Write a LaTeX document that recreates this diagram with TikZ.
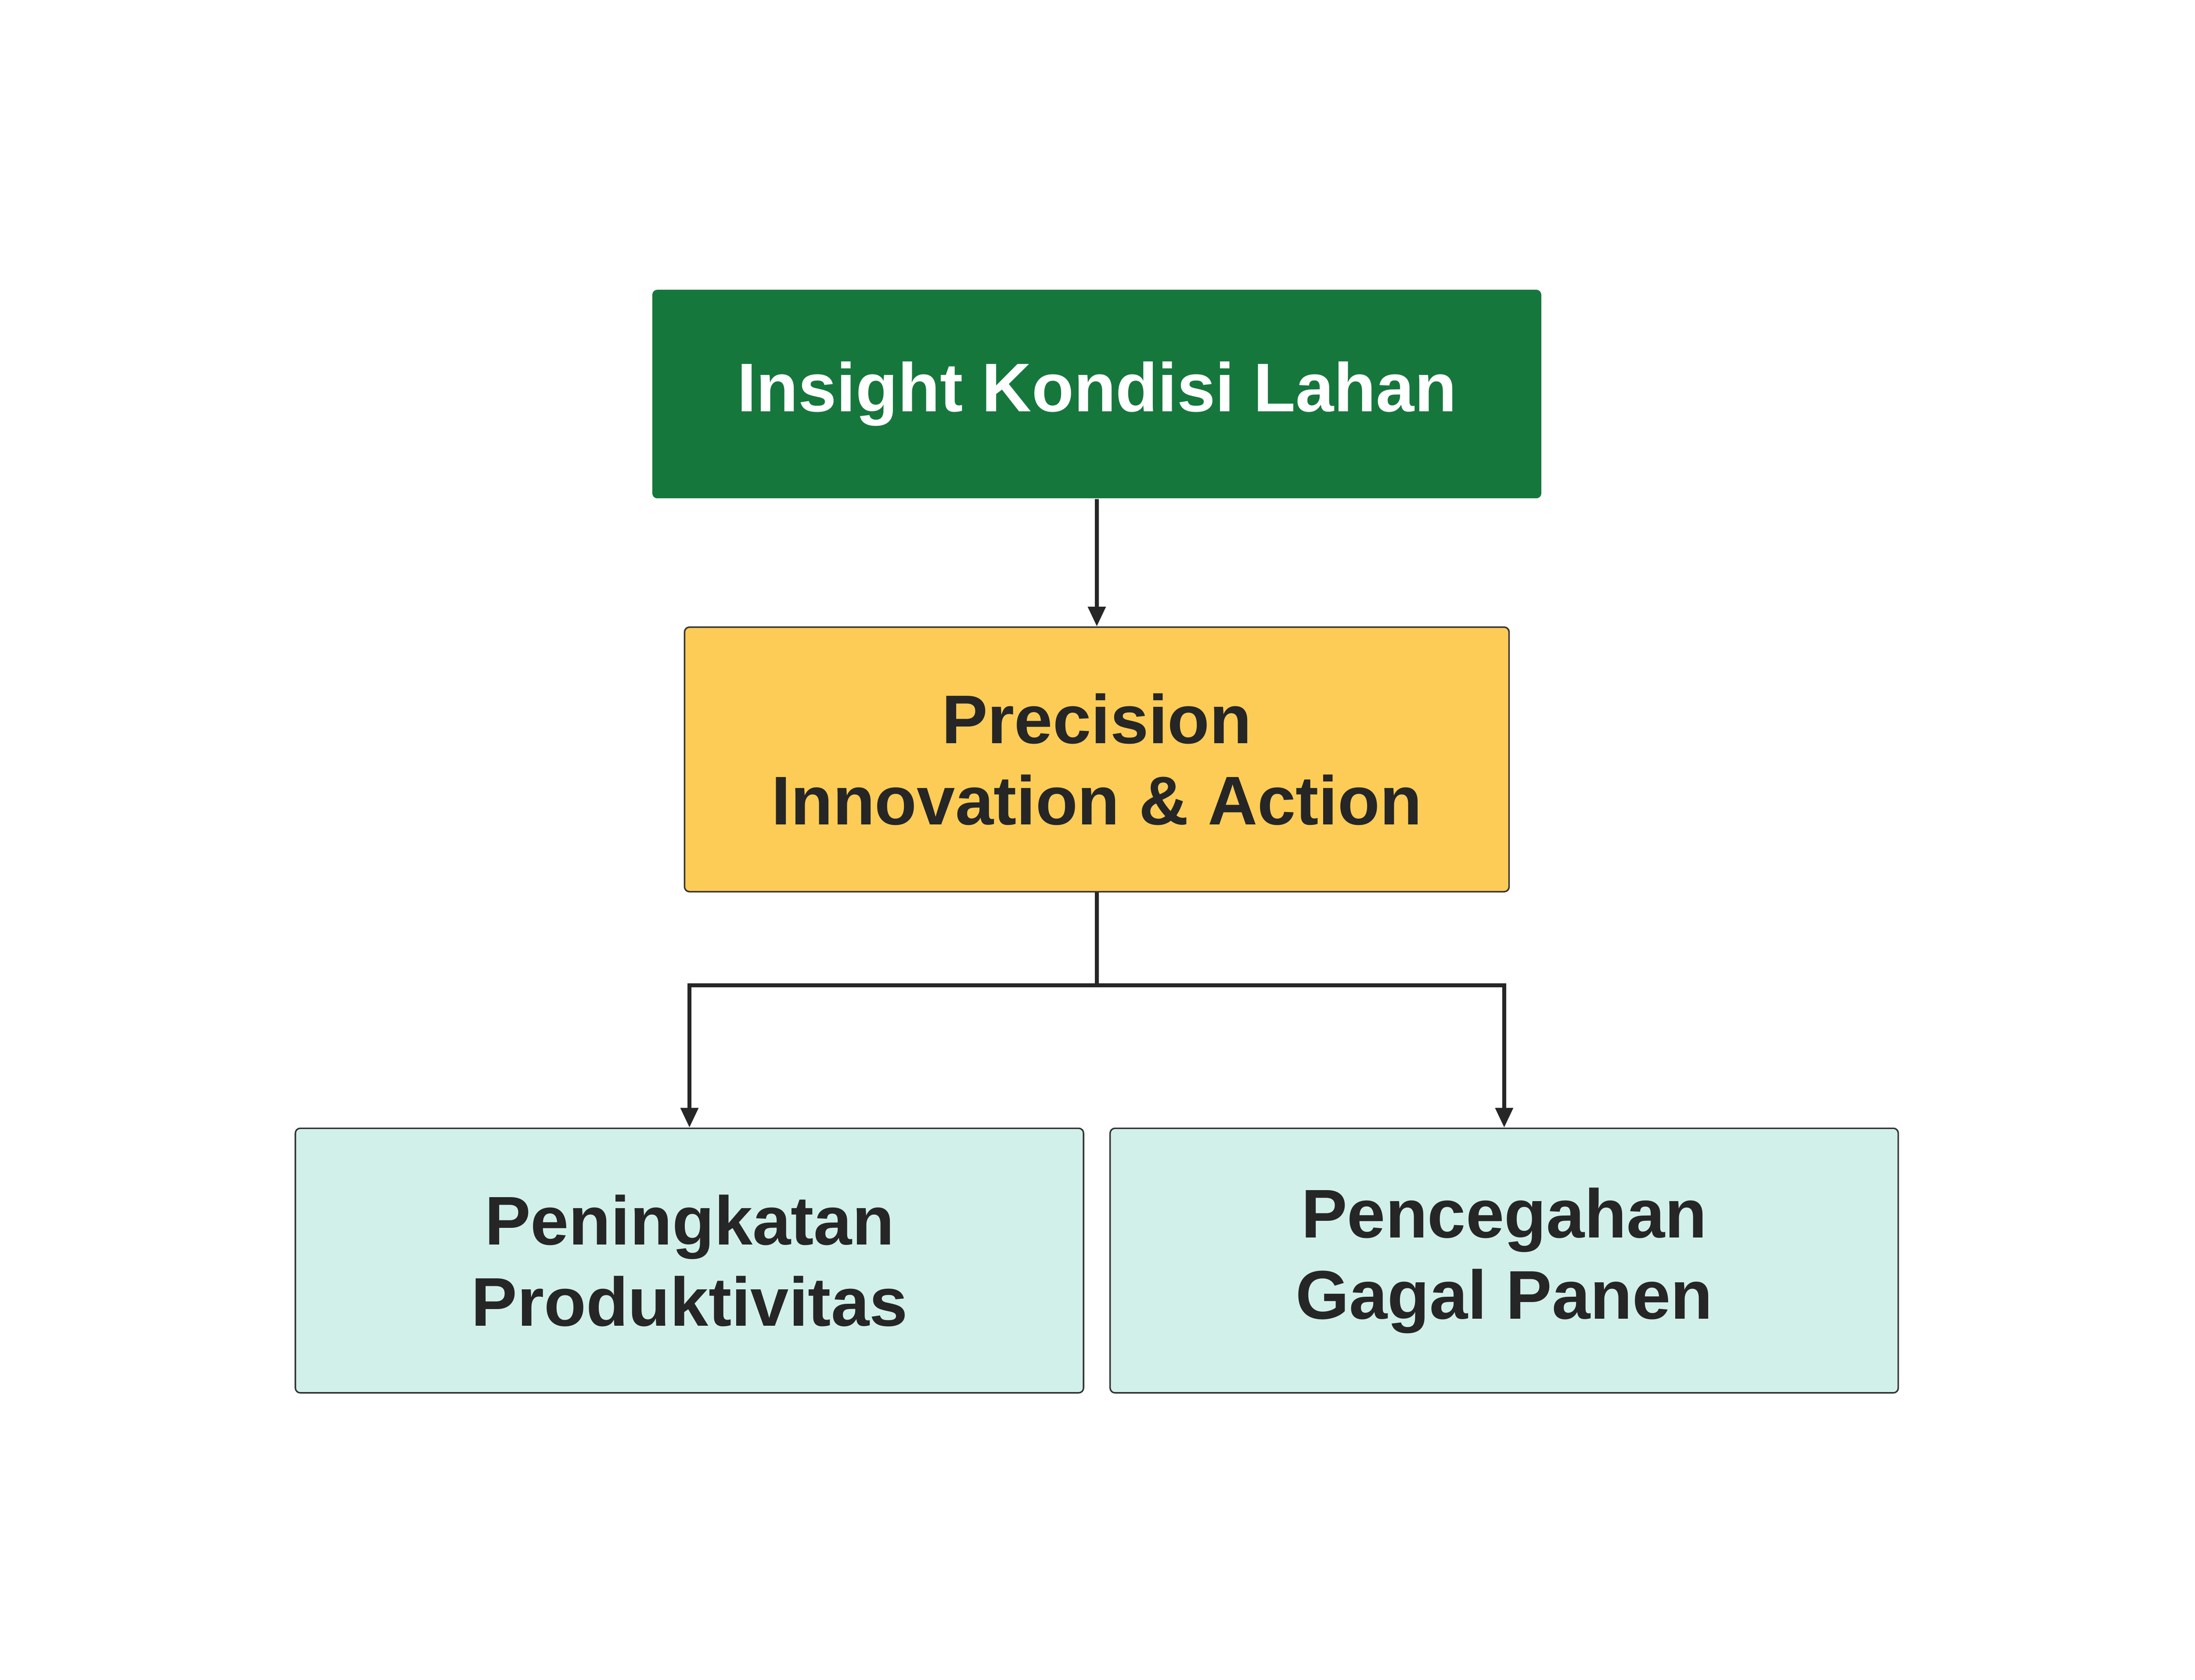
\documentclass[tikz,border=0pt]{standalone}
\usepackage{fontspec}
\setmainfont{Liberation Sans}
\usetikzlibrary{arrows.meta}
\definecolor{lahangreen}{HTML}{16773D}
\definecolor{actionyellow}{HTML}{FDCC56}
\definecolor{resultteal}{HTML}{D2F0EA}
\begin{document}
\begin{tikzpicture}
        \tikzstyle{every node}+=[font=\fontsize{14}{16.5}\selectfont\bfseries, align=center, rounded corners=1pt]
        \tikzstyle{flow}=[draw=black!85, line width=0.8pt, -{Triangle[length=4pt,width=3.5pt]}]
        \useasboundingbox (0,0) rectangle (15.68,12);
        \node [fill=lahangreen, text=white, minimum width=6.35cm, minimum height=1.49cm] (insight) at (7.835,9.185) {Insight Kondisi Lahan};
        \node [fill=actionyellow, draw=black!80, line width=0.3pt, text=black!85, minimum width=5.89cm, minimum height=1.89cm] (action) at (7.835,6.575) {Precision\\Innovation \& Action};
        \node [fill=resultteal, draw=black!80, line width=0.3pt, text=black!85, minimum width=5.63cm, minimum height=1.89cm] (produk) at (4.925,2.995) {Peningkatan\\Produktivitas};
        \node [fill=resultteal, draw=black!80, line width=0.3pt, text=black!85, minimum width=5.63cm, minimum height=1.89cm] (gagal) at (10.745,2.995) {Pencegahan\\Gagal Panen};
        \coordinate (split) at (7.835,4.96);
        \draw [flow] (insight) -- (action);
        \draw [flow] (action.south) -- (split) -| (produk.north);
        \draw [flow] (split) -| (gagal.north);
\end{tikzpicture}
\end{document}
